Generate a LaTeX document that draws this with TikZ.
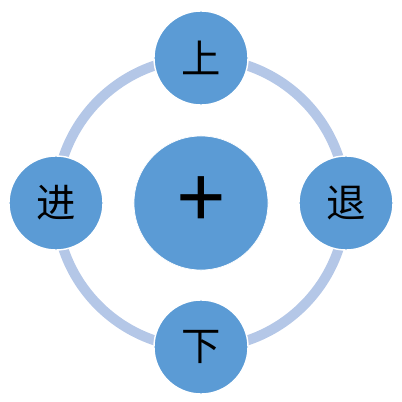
\documentclass[tikz,border=0pt]{standalone}
\usepackage{fontspec}
\newfontfamily\cjk{Noto Sans CJK SC}
\newfontfamily\plusfont{Noto Sans}
\definecolor{circblue}{HTML}{5B9BD5}
\definecolor{ringblue}{HTML}{B4C7E7}
\begin{document}
\begin{tikzpicture}[x=0.025cm, y=-0.025cm,
  bigdot/.style={circle, fill=circblue, draw=white, line width=0.5pt, minimum size=3.35cm, inner sep=0pt, font=\plusfont\bfseries\fontsize{62}{62}\selectfont},
  smalldot/.style={circle, fill=circblue, draw=white, line width=1pt, minimum size=2.35cm, inner sep=0pt, font=\cjk\fontsize{28}{30}\selectfont}]
\useasboundingbox (0,0) rectangle (402,402);
\node[bigdot] (center) at (201,203) {+};
\draw[ringblue, line width=0.25cm] (center) circle (145);
\node[smalldot] (up) at (201,58) {上};
\node[smalldot] (forward) at (56,203) {进};
\node[smalldot] (back) at (346,203) {退};
\node[smalldot] (down) at (201,347) {下};
\end{tikzpicture}
\end{document}
